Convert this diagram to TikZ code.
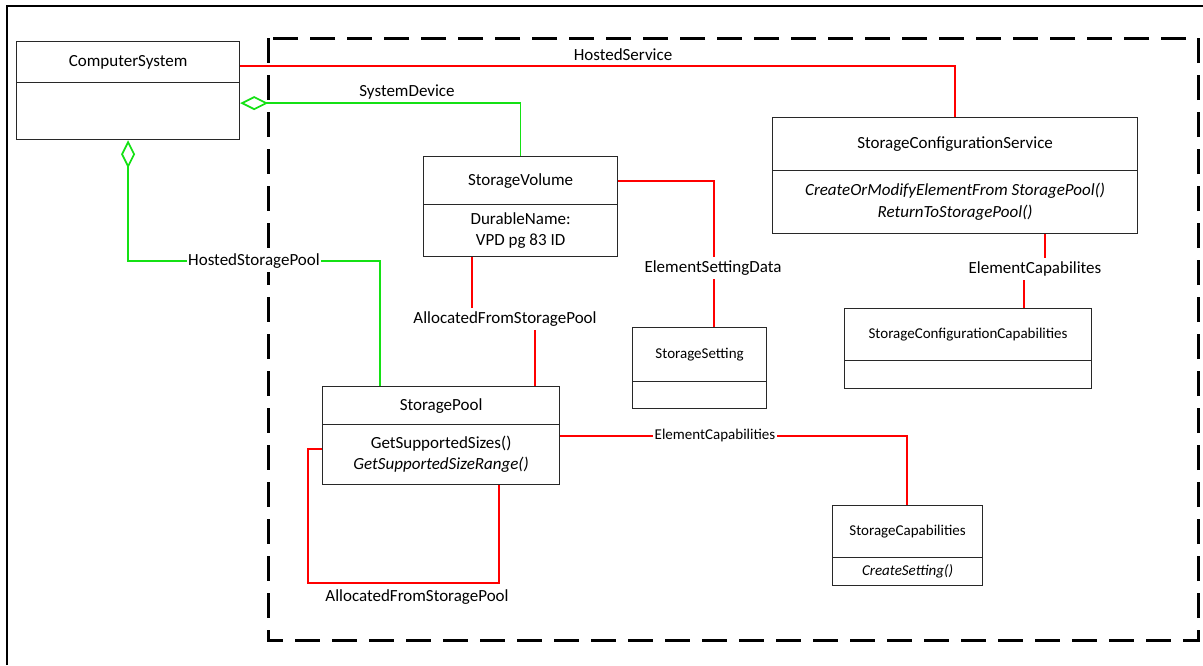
\documentclass[tikz,border=0pt]{standalone}
\usepackage{fontspec}
\setmainfont{Carlito}
\usetikzlibrary{arrows.meta,calc}
\definecolor{assocred}{RGB}{255,0,0}
\definecolor{assocgreen}{RGB}{20,225,20}
\definecolor{boxline}{RGB}{40,40,40}
\tikzset{
  bigf/.style={font=\fontsize{12.75}{15.75}\selectfont},
  bigit/.style={font=\fontsize{12.75}{16.5}\selectfont\itshape},
  smallf/.style={font=\fontsize{11.25}{14}\selectfont},
  cls/.style={draw=boxline, line width=0.9pt, inner sep=0pt, align=center, anchor=north west, bigf},
  lbl/.style={inner xsep=1pt, inner ysep=2.5pt, bigf},
  lblw/.style={lbl, fill=white},
  lbls/.style={inner xsep=1pt, inner ysep=2.5pt, smallf, fill=white},
  redline/.style={draw=assocred, line width=1.3pt},
  greenline/.style={draw=assocgreen, line width=1.3pt},
  agg/.style={{Diamond[open,length=21pt,width=10.5pt]}-},
}
\begin{document}
\begin{tikzpicture}[x=0.75pt,y=-0.75pt]
\useasboundingbox (0,0) rectangle (1203,665);
% outer solid frame (only top and left edges visible)
\draw[line width=1.5pt] (7,665) -- (7,6) -- (1203,6);
% dashed boundary
\draw[line width=2.25pt, dash pattern=on 18.75pt off 9pt] (268,38) rectangle (1198,640);

% classes
\node[cls, minimum width=167.25pt, minimum height=30.75pt] (cs) at (16,41) {ComputerSystem};
\node[cls, minimum width=167.25pt, minimum height=42.75pt] (csb) at (16,82) {};

\node[cls, minimum width=145.5pt, minimum height=36pt] (sv) at (423,156) {StorageVolume};
\node[cls, minimum width=145.5pt, minimum height=39pt] (svb) at (423,204) {DurableName:\\VPD pg 83 ID};

\node[cls, minimum width=273.75pt, minimum height=39.75pt] (scs) at (772,117) {StorageConfigurationService};
\node[cls, bigit, minimum width=273.75pt, minimum height=47.25pt] (scsb) at (772,170) {CreateOrModifyElementFrom StoragePool()\\ReturnToStoragePool()};

\node[cls, minimum width=177.75pt, minimum height=28.5pt] (sp) at (322,386) {StoragePool};
\node[cls, minimum width=177.75pt, minimum height=45pt] (spb) at (322,424) {GetSupportedSizes()\\\textit{GetSupportedSizeRange()}};

\node[cls, smallf, minimum width=100.5pt, minimum height=40.5pt] (ss) at (632,327) {StorageSetting};
\node[cls, smallf, minimum width=100.5pt, minimum height=20.25pt] (ssb) at (632,381) {};

\node[cls, smallf, minimum width=185.25pt, minimum height=39pt] (scc) at (844,308) {StorageConfigurationCapabilities};
\node[cls, smallf, minimum width=185.25pt, minimum height=21pt] (sccb) at (844,360) {};

\node[cls, smallf, minimum width=112.5pt, minimum height=39pt] (sc) at (832,505) {StorageCapabilities};
\node[cls, smallf, minimum width=112.5pt, minimum height=21pt] (scb) at (832,557) {\textit{CreateSetting()}};

% connectors
\draw[redline] ($(cs.east)+(0,4)$) -| (scs.north);
\draw[greenline, agg] ($(csb.east)+(0,-8)$) -| (sv.north);
\draw[greenline, agg] (csb.south) |- ($(sp.north west)+(58,-125)$) -- ($(sp.north west)+(58,0)$);
\draw[redline] ($(svb.south west)+(49,0)$) -- ++(0,63) -| ($(sp.north west)+(213,0)$);
\draw[redline] ($(sv.east)+(0,0.5)$) -| ($(ss.north west)+(82,0)$);
\draw[redline] ($(scsb.south west)+(273,0)$) -- ++(0,36) -| ($(scc.north west)+(180,0)$);
\draw[redline] ($(spb.east)+(0,-18.5)$) -| ($(sc.north west)+(75,0)$);
\draw[redline] ($(spb.west)+(0,-5.5)$) -- ++(-14,0) |- ($(spb.south west)+(177,97.5)$) -- ($(spb.south west)+(177,0)$);

% labels
\node[lbl] (lhs) at (623,55) {HostedService};
\node[lbl] (lsd) at (407,92) {SystemDevice};
\node[lblw] (lhsp) at (254,261) {HostedStoragePool};
\node[lblw] (lafsp) at (505,319) {AllocatedFromStoragePool};
\node[lblw] (lesd) at (713,268) {ElementSettingData};
\node[lblw] (lecs) at (1035,269) {ElementCapabilites};
\node[lbls] (lec) at (715,435) {ElementCapabilities};
\node[lbl] (lafsp2) at (417,597) {AllocatedFromStoragePool};
\end{tikzpicture}
\end{document}
